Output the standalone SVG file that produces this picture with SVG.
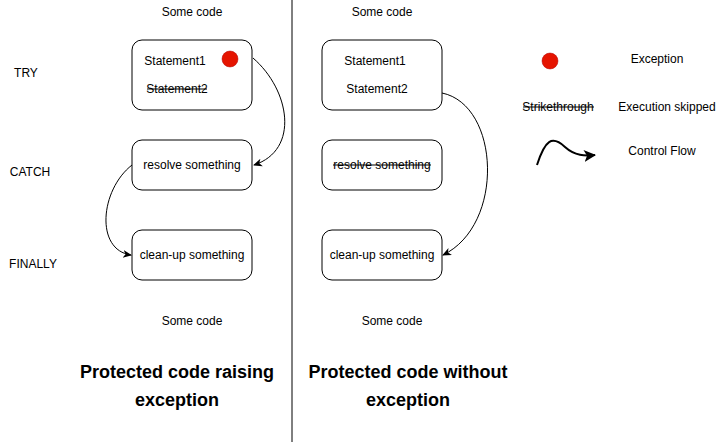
<svg xmlns="http://www.w3.org/2000/svg" width="723" height="442" viewBox="0 0 723 442">
<defs>
<style>
text{font-family:"Liberation Sans",Arial,sans-serif;font-size:12px;fill:#000}
.node{fill:#fff;stroke:#000;stroke-width:1}
.c{text-anchor:middle}
.title{font-size:18px;font-weight:bold;text-anchor:middle}
.edge{fill:none;stroke:#000;stroke-width:1}
.strike{stroke:#000;stroke-width:1}
</style>
<marker id="arr" markerWidth="10" markerHeight="10" refX="8" refY="5" orient="auto" markerUnits="userSpaceOnUse">
<path d="M0,1 L9,5 L0,9 L2.5,5 Z" fill="#000"/>
</marker>
<marker id="arr2" markerWidth="14" markerHeight="14" refX="11" refY="7" orient="auto" markerUnits="userSpaceOnUse">
<path d="M0,1 L12,7 L0,13 L3,7 Z" fill="#000"/>
</marker>
</defs>
<rect width="723" height="442" fill="#fff"/>
<line x1="292" y1="0" x2="292" y2="442" stroke="#000" stroke-width="1"/>
<g id="labels">
<text x="26" y="77" class="c">TRY</text>
<text x="30" y="176" class="c">CATCH</text>
<text x="33" y="268" class="c">FINALLY</text>
<text x="192" y="16" class="c">Some code</text>
<text x="382" y="16" class="c">Some code</text>
<text x="192" y="325" class="c">Some code</text>
<text x="392" y="325" class="c">Some code</text>
<text x="177" y="378" class="title">Protected code raising</text>
<text x="177" y="406" class="title">exception</text>
<text x="408" y="378" class="title">Protected code without</text>
<text x="408" y="406" class="title">exception</text>
</g>
<g id="try-left">
<rect class="node" x="132" y="40" width="120" height="70" rx="10"/>
<text x="175" y="65" class="c">Statement1</text>
<text x="177" y="93" class="c">Statement2</text>
<line class="strike" x1="147" y1="89" x2="207" y2="89"/>
<circle cx="230" cy="59" r="8" fill="#e51400" stroke="#b20000" stroke-width="0.5"/>
</g>
<g id="catch-left">
<rect class="node" x="132" y="140" width="120" height="50" rx="10"/>
<text x="192" y="169" class="c">resolve something</text>
</g>
<g id="finally-left">
<rect class="node" x="132" y="230" width="120" height="50" rx="10"/>
<text x="192" y="259" class="c">clean-up something</text>
</g>
<g id="try-right">
<rect class="node" x="322" y="40" width="120" height="70" rx="10"/>
<text x="375" y="65" class="c">Statement1</text>
<text x="377" y="93" class="c">Statement2</text>
</g>
<g id="catch-right">
<rect class="node" x="322" y="140" width="120" height="50" rx="10"/>
<text x="382" y="169" class="c">resolve something</text>
<line class="strike" x1="333" y1="165" x2="431" y2="165"/>
</g>
<g id="finally-right">
<rect class="node" x="322" y="230" width="120" height="50" rx="10"/>
<text x="382" y="259" class="c">clean-up something</text>
</g>
<g id="legend">
<circle cx="550" cy="61" r="8" fill="#e51400" stroke="#b20000" stroke-width="0.5"/>
<text x="657" y="63" class="c">Exception</text>
<text x="558" y="111" class="c">Strikethrough</text>
<line class="strike" x1="523" y1="107" x2="594" y2="107"/>
<text x="667" y="111" class="c">Execution skipped</text>
<text x="662" y="155" class="c">Control Flow</text>
<path d="M537,165 C545,140 552,135 565,147 C575,156 585,156 595,155" fill="none" stroke="#000" stroke-width="2" marker-end="url(#arr2)"/>
</g>
<g id="connectors">
<path class="edge" d="M253,58 C290,90 300,150 254,165" marker-end="url(#arr)"/>
<path class="edge" d="M132,165 C100,190 95,250 131,255" marker-end="url(#arr)"/>
<path class="edge" d="M442,93 C500,105 505,225 443,255" marker-end="url(#arr)"/>
</g>
</svg>
